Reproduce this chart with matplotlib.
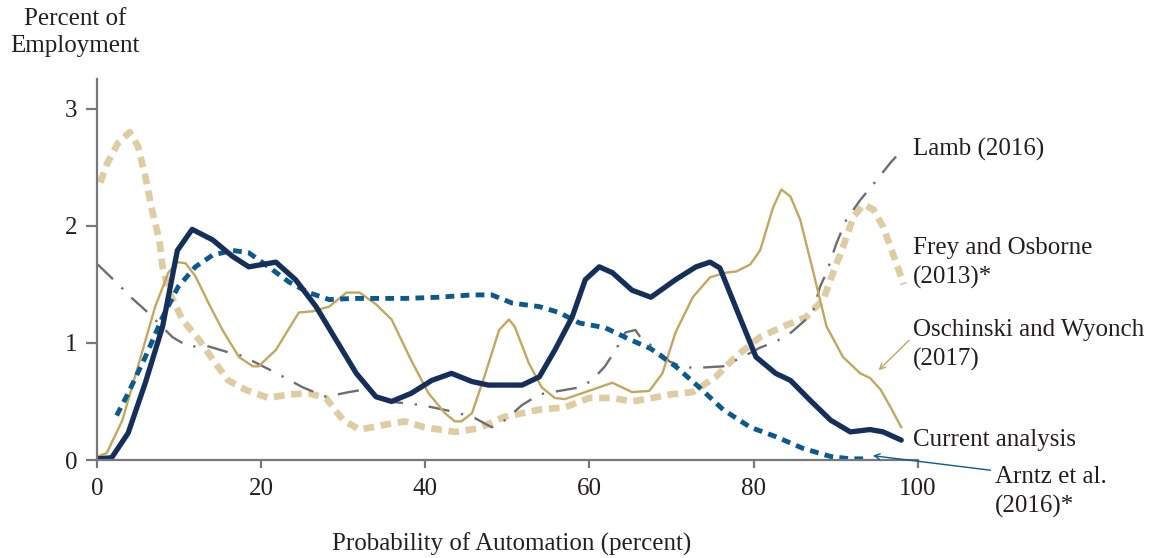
import numpy as np
import matplotlib.pyplot as plt

plt.rcParams['font.family'] = ['Liberation Serif', 'DejaVu Serif']

# Current analysis
cur_x = [0.1, 1.8, 3.8, 5.9, 8.0, 9.8, 11.6, 14.1, 16.5, 18.5, 20.2, 21.8, 24.2, 26.7,
         29.1, 31.6, 34.0, 35.9, 38.3, 40.8, 43.2, 45.7, 47.7, 51.8, 53.9, 55.8, 57.9,
         59.5, 61.2, 62.8, 65.2, 67.5, 70.5, 73.0, 74.7, 75.9, 77.8, 80.3, 82.7, 84.5,
         86.9, 89.4, 91.8, 94.2, 95.8, 98.0]
cur_y = [0.01, 0.02, 0.23, 0.66, 1.14, 1.79, 1.97, 1.88, 1.74, 1.65, 1.67, 1.69, 1.54, 1.31,
         1.03, 0.74, 0.54, 0.50, 0.57, 0.68, 0.74, 0.67, 0.64, 0.64, 0.71, 0.94, 1.22,
         1.54, 1.65, 1.60, 1.45, 1.39, 1.54, 1.65, 1.69, 1.64, 1.31, 0.88, 0.74, 0.68,
         0.51, 0.34, 0.24, 0.26, 0.24, 0.17]

# Oschinski and Wyonch (2017)
osc_x = [0.1, 1.2, 3.1, 5.0, 7.1, 8.7, 9.8, 10.8, 12.0, 13.6, 15.3, 17.3, 19.0, 19.7, 21.8,
         24.6, 26.3, 28.3, 30.4, 32.0, 34.0, 35.9, 38.3, 40.4, 42.4, 43.6, 44.4, 45.7,
         47.2, 49.0, 50.2, 50.9, 52.6, 54.2, 55.8, 57.0, 59.5, 62.8, 65.2, 67.3, 68.9,
         70.5, 72.6, 74.7, 76.6, 77.9, 79.6, 80.8, 82.4, 83.4, 84.5, 85.7, 87.3, 88.9,
         90.9, 93.0, 94.2, 95.5, 96.7, 98.0]
osc_y = [0.03, 0.06, 0.34, 0.80, 1.31, 1.60, 1.69, 1.68, 1.57, 1.34, 1.11, 0.88, 0.80, 0.80, 0.94,
         1.26, 1.27, 1.31, 1.43, 1.43, 1.33, 1.20, 0.85, 0.57, 0.40, 0.33, 0.33, 0.40,
         0.71, 1.11, 1.20, 1.14, 0.83, 0.62, 0.53, 0.52, 0.58, 0.66, 0.58, 0.59, 0.74,
         1.09, 1.39, 1.56, 1.60, 1.61, 1.67, 1.79, 2.16, 2.31, 2.25, 2.05, 1.60, 1.14,
         0.88, 0.74, 0.70, 0.60, 0.45, 0.28]

# Frey and Osborne (2013)*
frey_x = [0.4, 1.3, 2.6, 4.0, 5.0, 5.9, 6.7, 7.6, 8.0, 8.7, 10.4, 12.4, 14.4, 16.0, 18.1,
          20.9, 23.4, 25.8, 27.9, 30.0, 32.0, 35.0, 37.5, 39.9, 43.6, 46.5, 49.7, 53.9,
          57.0, 60.0, 62.8, 65.2, 67.7, 69.8, 72.6, 75.4, 77.8, 80.8, 83.6, 86.4, 88.5,
          89.7, 90.9, 92.2, 93.4, 94.6, 95.8, 97.1, 98.3]
frey_y = [2.37, 2.54, 2.71, 2.80, 2.68, 2.42, 2.14, 1.88, 1.65, 1.45, 1.20, 1.03, 0.83, 0.68, 0.60,
          0.53, 0.56, 0.57, 0.53, 0.34, 0.26, 0.30, 0.33, 0.28, 0.24, 0.27, 0.37, 0.43,
          0.45, 0.53, 0.53, 0.50, 0.53, 0.56, 0.58, 0.71, 0.88, 1.05, 1.14, 1.22, 1.37,
          1.60, 1.82, 2.08, 2.18, 2.14, 1.99, 1.74, 1.50]

# Arntz et al. (2016)*
arn_x = [2.4, 3.8, 5.9, 8.0, 9.9, 12.0, 14.1, 16.5, 18.5, 20.9, 23.4, 25.8, 28.3, 31.2, 34.0,
         37.5, 41.6, 45.7, 48.1, 50.6, 53.9, 56.3, 58.8, 61.9, 64.9, 67.5, 70.5, 73.4,
         76.3, 79.6, 82.7, 86.0, 89.4, 91.8, 93.6]
arn_y = [0.38, 0.57, 0.88, 1.22, 1.48, 1.65, 1.75, 1.79, 1.77, 1.65, 1.52, 1.43, 1.37, 1.38, 1.38,
         1.38, 1.39, 1.41, 1.41, 1.34, 1.31, 1.26, 1.17, 1.13, 1.03, 0.95, 0.80, 0.62,
         0.43, 0.28, 0.20, 0.10, 0.03, 0.01, 0.01]

# Lamb (2016)
lamb_x = [0.1, 2.6, 4.3, 6.2, 9.2, 11.1, 13.6, 16.0, 17.7, 22.2, 25.1, 27.9, 30.7, 32.4, 34.0,
          35.5, 39.5, 43.6, 46.0, 48.1, 49.7, 51.8, 53.9, 56.3, 58.8, 60.3, 61.9, 63.2,
          64.4, 65.6, 66.2, 67.7, 69.8, 71.7, 73.8, 76.3, 78.7, 80.8, 82.7, 84.6, 86.4,
          87.3, 88.1, 88.9, 90.1, 91.3, 93.0, 95.0, 96.7, 98.0]
lamb_y = [1.67, 1.50, 1.38, 1.26, 1.05, 0.97, 0.97, 0.92, 0.89, 0.73, 0.62, 0.54, 0.58, 0.60, 0.57,
          0.50, 0.47, 0.41, 0.36, 0.28, 0.34, 0.47, 0.56, 0.59, 0.62, 0.68, 0.80, 0.94,
          1.09, 1.11, 1.05, 0.97, 0.84, 0.79, 0.79, 0.80, 0.88, 0.96, 1.01, 1.09, 1.20,
          1.28, 1.48, 1.60, 1.85, 2.05, 2.22, 2.39, 2.54, 2.64]

navy = '#14305a'
tan = '#c4a75e'
lighttan = '#dfcca2'
blue = '#0b5a8e'
gray = '#6d6e71'
axcol = '#77787b'
txt = '#231f20'

fig = plt.figure(figsize=(11.54, 5.58), dpi=100)
ax = fig.add_axes([0.084, 0.1756, 0.7112, 0.682])

ax.plot(frey_x, frey_y, color=lighttan, lw=4.8, dashes=(1.6, 1.0), dash_capstyle='butt',
        solid_joinstyle='round', dash_joinstyle='round')
ax.plot(lamb_x, lamb_y, color=gray, lw=1.7, dashes=(9, 5, 1, 5), dash_joinstyle='round')
ax.plot(osc_x, osc_y, color=tan, lw=1.7, solid_joinstyle='round')
ax.plot(arn_x, arn_y, color=blue, lw=3.5, dashes=(1.8, 1.3), dash_capstyle='butt',
        dash_joinstyle='round')
ax.plot(cur_x, cur_y, color=navy, lw=3.8, solid_capstyle='round', solid_joinstyle='round')

ax.set_xlim(0, 100)
ax.set_ylim(0, 3.25)
ax.set_xticks([0, 20, 40, 60, 80, 100])
ax.set_yticks([0, 1, 2, 3])
for s in ['top', 'right']:
    ax.spines[s].set_visible(False)
for s in ['left', 'bottom']:
    ax.spines[s].set_color(axcol)
    ax.spines[s].set_linewidth(1.6)
ax.tick_params(axis='both', colors=axcol, width=1.6, labelcolor=txt, labelsize=18)
ax.tick_params(axis='y', length=8, pad=6)
ax.tick_params(axis='x', length=6, pad=7)

ax.text(-2.7, 3.44, 'Percent of\nEmployment', fontsize=18, color=txt,
        ha='center', va='bottom', linespacing=1.3)
ax.text(50.5, -0.62, 'Probability of Automation (percent)', fontsize=18, color=txt,
        ha='center', va='top')

fs = 18
ax.text(99.4, 2.65, 'Lamb (2016)', fontsize=fs, color=txt, va='center', clip_on=False)
ax.text(99.4, 1.68, 'Frey and Osborne\n(2013)*', fontsize=fs, color=txt, va='center',
        linespacing=1.4, clip_on=False)
ax.text(99.4, 0.98, 'Oschinski and Wyonch\n(2017)', fontsize=fs, color=txt, va='center',
        linespacing=1.4, clip_on=False)
ax.text(99.4, 0.17, 'Current analysis', fontsize=fs, color=txt, va='center', clip_on=False)
ax.text(109.4, -0.27, 'Arntz et al.\n(2016)*', fontsize=fs, color=txt, va='center',
        linespacing=1.4, clip_on=False)

ax.annotate('', xy=(95.0, 0.75), xytext=(99.2, 1.04),
            arrowprops=dict(arrowstyle='->', color=tan, lw=1.0), annotation_clip=False)
ax.annotate('', xy=(94.2, 0.04), xytext=(109.2, -0.09),
            arrowprops=dict(arrowstyle='->', color=blue, lw=1.0), annotation_clip=False)

fig.savefig('out.png', dpi=100)
